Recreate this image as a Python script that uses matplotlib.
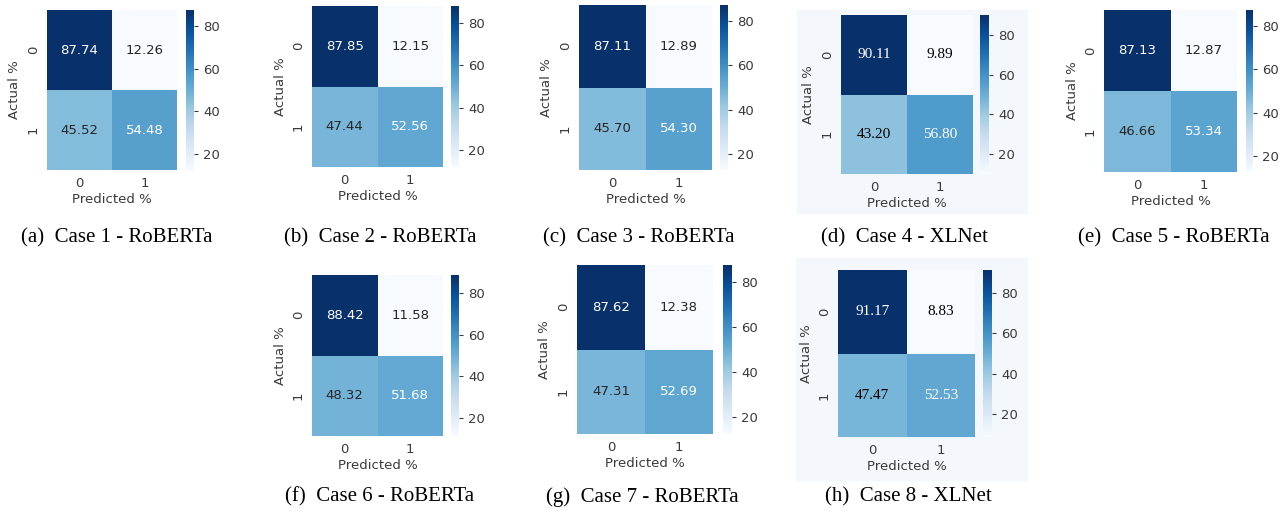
import numpy as np
import matplotlib
matplotlib.use("Agg")
import matplotlib.pyplot as plt
from matplotlib.patches import Rectangle
import seaborn as sns

# Confusion matrices (%), rows = actual, cols = predicted
case1 = [[87.74, 12.26], [45.52, 54.48]]
case2 = [[87.85, 12.15], [47.44, 52.56]]
case3 = [[87.11, 12.89], [45.70, 54.30]]
case4 = [[90.11, 9.89], [43.20, 56.80]]
case5 = [[87.13, 12.87], [46.66, 53.34]]
case6 = [[88.42, 11.58], [48.32, 51.68]]
case7 = [[87.62, 12.38], [47.31, 52.69]]
case8 = [[91.17, 8.83], [47.47, 52.53]]

matrices = [case1, case2, case3, case4, case5, case6, case7, case8]
captions = ["(a)  Case 1 - RoBERTa", "(b)  Case 2 - RoBERTa", "(c)  Case 3 - RoBERTa",
            "(d)  Case 4 - XLNet", "(e)  Case 5 - RoBERTa", "(f)  Case 6 - RoBERTa",
            "(g)  Case 7 - RoBERTa", "(h)  Case 8 - XLNet"]
models = ["RoBERTa", "RoBERTa", "RoBERTa", "XLNet", "RoBERTa", "RoBERTa", "RoBERTa", "XLNet"]
class_labels = ["0", "1"]

W, H = 1288, 518

# layout in pixels: heatmap box (x0, y0, x1, y1), colorbar box, caption centre
heat_px = [(47, 10, 177, 170), (312, 6, 443, 167), (579, 5, 712, 170),
           (841, 15, 973, 174), (1104, 10, 1237, 172),
           (312, 275, 443, 436), (577, 265, 713, 434), (838, 270, 975, 437)]
cbar_px = [(186, 10, 194, 170), (451, 6, 459, 167), (720, 5, 728, 170),
           (980, 15, 989, 174), (1246, 10, 1253, 172),
           (451, 275, 459, 436), (723, 265, 732, 434), (983, 270, 992, 437)]
cap_px = [(117, 238), (380, 238), (639, 238), (904, 238), (1174, 238),
          (380, 497), (642, 497), (908, 497)]
bg_px = {3: (797, 10, 1027, 213), 7: (796, 258, 1027, 480)}


def box(p):
    x0, y0, x1, y1 = p
    return [x0 / W, 1 - y1 / H, (x1 - x0) / W, (y1 - y0) / H]


fig = plt.figure(figsize=(W / 100, H / 100), dpi=100)
txt = "#3a3a3a"

for i, m in enumerate(matrices):
    # screenshots of XLNet runs have a light tinted background
    if i in bg_px:
        x0, y0, x1, y1 = bg_px[i]
        fig.patches.append(Rectangle((x0 / W, 1 - y1 / H), (x1 - x0) / W, (y1 - y0) / H,
                                     transform=fig.transFigure, color="#f4f8fc", zorder=-10))
    ax = fig.add_axes(box(heat_px[i]))
    cax = fig.add_axes(box(cbar_px[i]))
    xlnet = models[i] == "XLNet"
    if xlnet:
        annot_kws = {"fontsize": 11, "family": "Liberation Serif"}
    else:
        annot_kws = {"fontsize": 9.5}
    sns.heatmap(np.array(m), annot=True, fmt=".2f", cmap="Blues", ax=ax, cbar_ax=cax,
                xticklabels=class_labels, yticklabels=class_labels, annot_kws=annot_kws)
    if xlnet:
        # dark annotations are pure black in these
        for t in ax.texts:
            if t.get_color() != "w":
                t.set_color("black")
    ax.tick_params(length=0, pad=5, labelsize=9.5, labelcolor=txt)
    plt.setp(ax.get_yticklabels(), rotation=90, va="center")
    plt.setp(ax.get_xticklabels(), rotation=0)
    ax.set_xlabel("Predicted %", fontsize=9.5, color=txt, labelpad=2)
    ax.set_ylabel("Actual %", fontsize=9.5, color=txt, labelpad=4)
    cax.tick_params(labelsize=9.5, labelcolor=txt, length=3, color=txt)
    fig.text(cap_px[i][0] / W, 1 - cap_px[i][1] / H, captions[i], ha="center", va="center",
             family="Liberation Serif", fontsize=15)

fig.savefig("out.png", dpi=100)
